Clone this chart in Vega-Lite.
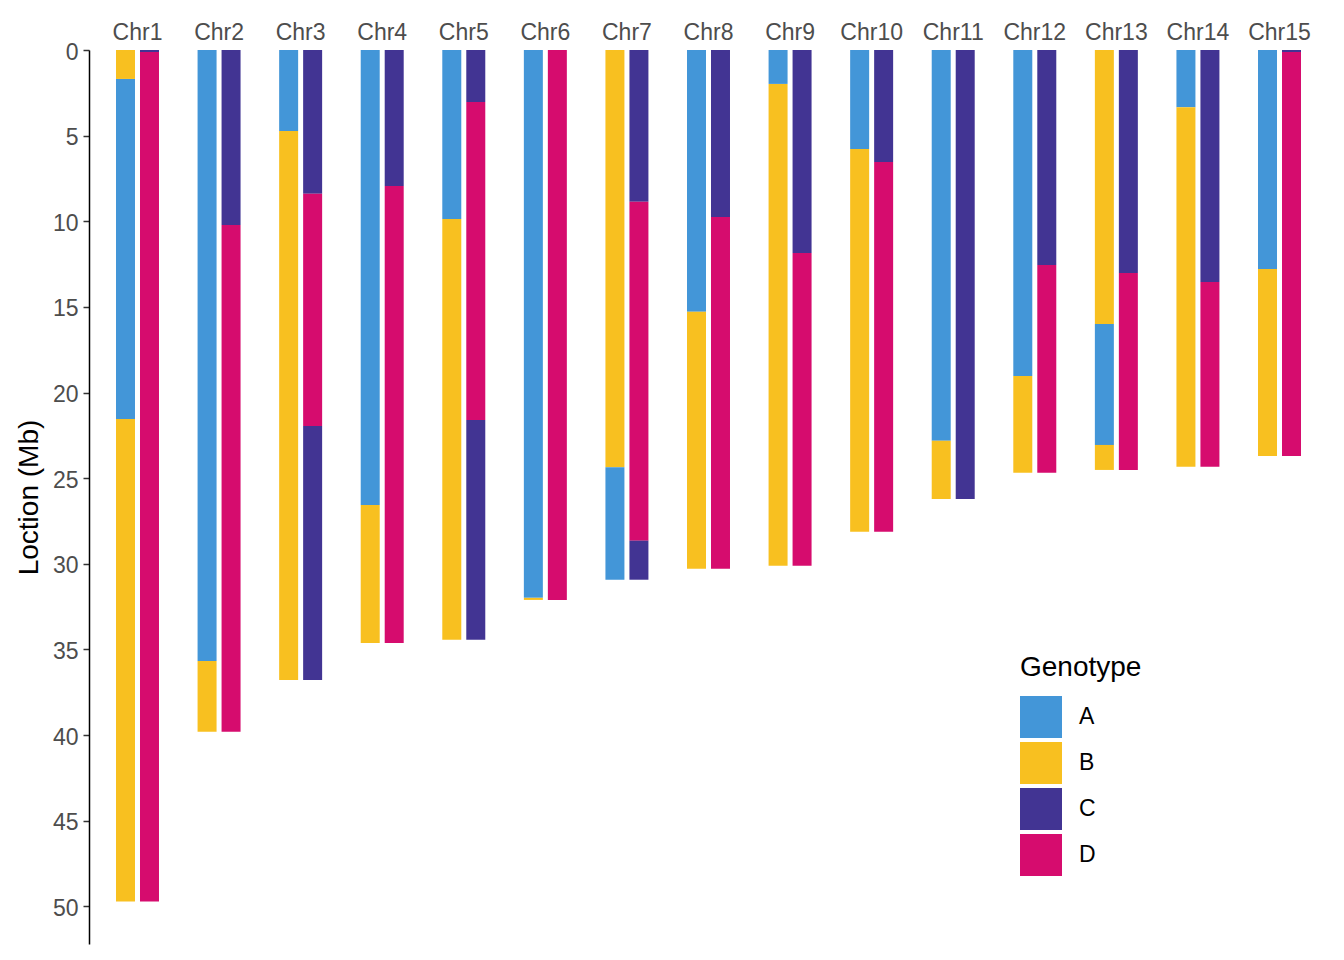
{
 "$schema": "https://vega.github.io/schema/vega-lite/v6.json",
 "width": 1239, "height": 894,
 "autosize": {"type": "none"},
 "padding": {"left": 89, "top": 50, "right": 16, "bottom": 16},
 "config": {"font": "Liberation Sans", "view": {"stroke": null}},
 "data": {"values": [
  {"chr":"Chr1","hap":"1","start":0,"end":1.69,"genotype":"B"},
  {"chr":"Chr1","hap":"1","start":1.69,"end":21.54,"genotype":"A"},
  {"chr":"Chr1","hap":"1","start":21.54,"end":49.72,"genotype":"B"},
  {"chr":"Chr1","hap":"2","start":0,"end":0.12,"genotype":"C"},
  {"chr":"Chr1","hap":"2","start":0.12,"end":49.72,"genotype":"D"},
  {"chr":"Chr2","hap":"1","start":0,"end":35.67,"genotype":"A"},
  {"chr":"Chr2","hap":"1","start":35.67,"end":39.81,"genotype":"B"},
  {"chr":"Chr2","hap":"2","start":0,"end":10.22,"genotype":"C"},
  {"chr":"Chr2","hap":"2","start":10.22,"end":39.81,"genotype":"D"},
  {"chr":"Chr3","hap":"1","start":0,"end":4.73,"genotype":"A"},
  {"chr":"Chr3","hap":"1","start":4.73,"end":36.78,"genotype":"B"},
  {"chr":"Chr3","hap":"2","start":0,"end":8.39,"genotype":"C"},
  {"chr":"Chr3","hap":"2","start":8.39,"end":21.95,"genotype":"D"},
  {"chr":"Chr3","hap":"2","start":21.95,"end":36.78,"genotype":"C"},
  {"chr":"Chr4","hap":"1","start":0,"end":26.56,"genotype":"A"},
  {"chr":"Chr4","hap":"1","start":26.56,"end":34.62,"genotype":"B"},
  {"chr":"Chr4","hap":"2","start":0,"end":7.94,"genotype":"C"},
  {"chr":"Chr4","hap":"2","start":7.94,"end":34.62,"genotype":"D"},
  {"chr":"Chr5","hap":"1","start":0,"end":9.87,"genotype":"A"},
  {"chr":"Chr5","hap":"1","start":9.87,"end":34.44,"genotype":"B"},
  {"chr":"Chr5","hap":"2","start":0,"end":3.04,"genotype":"C"},
  {"chr":"Chr5","hap":"2","start":3.04,"end":21.6,"genotype":"D"},
  {"chr":"Chr5","hap":"2","start":21.6,"end":34.44,"genotype":"C"},
  {"chr":"Chr6","hap":"1","start":0,"end":31.99,"genotype":"A"},
  {"chr":"Chr6","hap":"1","start":31.99,"end":32.11,"genotype":"B"},
  {"chr":"Chr6","hap":"2","start":0,"end":32.11,"genotype":"D"},
  {"chr":"Chr7","hap":"1","start":0,"end":24.37,"genotype":"B"},
  {"chr":"Chr7","hap":"1","start":24.37,"end":30.93,"genotype":"A"},
  {"chr":"Chr7","hap":"2","start":0,"end":8.86,"genotype":"C"},
  {"chr":"Chr7","hap":"2","start":8.86,"end":28.65,"genotype":"D"},
  {"chr":"Chr7","hap":"2","start":28.65,"end":30.93,"genotype":"C"},
  {"chr":"Chr8","hap":"1","start":0,"end":15.29,"genotype":"A"},
  {"chr":"Chr8","hap":"1","start":15.29,"end":30.29,"genotype":"B"},
  {"chr":"Chr8","hap":"2","start":0,"end":9.75,"genotype":"C"},
  {"chr":"Chr8","hap":"2","start":9.75,"end":30.29,"genotype":"D"},
  {"chr":"Chr9","hap":"1","start":0,"end":1.98,"genotype":"A"},
  {"chr":"Chr9","hap":"1","start":1.98,"end":30.12,"genotype":"B"},
  {"chr":"Chr9","hap":"2","start":0,"end":11.85,"genotype":"C"},
  {"chr":"Chr9","hap":"2","start":11.85,"end":30.12,"genotype":"D"},
  {"chr":"Chr10","hap":"1","start":0,"end":5.78,"genotype":"A"},
  {"chr":"Chr10","hap":"1","start":5.78,"end":28.13,"genotype":"B"},
  {"chr":"Chr10","hap":"2","start":0,"end":6.54,"genotype":"C"},
  {"chr":"Chr10","hap":"2","start":6.54,"end":28.13,"genotype":"D"},
  {"chr":"Chr11","hap":"1","start":0,"end":22.82,"genotype":"A"},
  {"chr":"Chr11","hap":"1","start":22.82,"end":26.21,"genotype":"B"},
  {"chr":"Chr11","hap":"2","start":0,"end":26.21,"genotype":"C"},
  {"chr":"Chr12","hap":"1","start":0,"end":19.03,"genotype":"A"},
  {"chr":"Chr12","hap":"1","start":19.03,"end":24.69,"genotype":"B"},
  {"chr":"Chr12","hap":"2","start":0,"end":12.55,"genotype":"C"},
  {"chr":"Chr12","hap":"2","start":12.55,"end":24.69,"genotype":"D"},
  {"chr":"Chr13","hap":"1","start":0,"end":16.0,"genotype":"B"},
  {"chr":"Chr13","hap":"1","start":16.0,"end":23.06,"genotype":"A"},
  {"chr":"Chr13","hap":"1","start":23.06,"end":24.52,"genotype":"B"},
  {"chr":"Chr13","hap":"2","start":0,"end":13.02,"genotype":"C"},
  {"chr":"Chr13","hap":"2","start":13.02,"end":24.52,"genotype":"D"},
  {"chr":"Chr14","hap":"1","start":0,"end":3.34,"genotype":"A"},
  {"chr":"Chr14","hap":"1","start":3.34,"end":24.34,"genotype":"B"},
  {"chr":"Chr14","hap":"2","start":0,"end":13.54,"genotype":"C"},
  {"chr":"Chr14","hap":"2","start":13.54,"end":24.34,"genotype":"D"},
  {"chr":"Chr15","hap":"1","start":0,"end":12.78,"genotype":"A"},
  {"chr":"Chr15","hap":"1","start":12.78,"end":23.7,"genotype":"B"},
  {"chr":"Chr15","hap":"2","start":0,"end":0.12,"genotype":"C"},
  {"chr":"Chr15","hap":"2","start":0.12,"end":23.7,"genotype":"D"}
 ]},
 "mark": {"type": "bar"},
 "encoding": {
  "x": {"field": "chr", "type": "nominal",
   "sort": ["Chr1","Chr2","Chr3","Chr4","Chr5","Chr6","Chr7","Chr8","Chr9","Chr10","Chr11","Chr12","Chr13","Chr14","Chr15"],
   "scale": {"paddingInner": 0.473, "paddingOuter": 0.331},
   "axis": {"orient": "top", "title": null, "domain": false, "ticks": false, "labelAngle": 0, "labelFontSize": 23, "labelColor": "#4d4d4d", "labelPadding": 6}},
  "xOffset": {"field": "hap", "type": "nominal", "scale": {"paddingInner": 0.2083, "paddingOuter": 0}},
  "y": {"field": "start", "type": "quantitative",
   "scale": {"domain": [0, 52.2], "reverse": true, "nice": false, "zero": false},
   "axis": {"title": "Loction (Mb)", "values": [0,5,10,15,20,25,30,35,40,45,50], "grid": false,
    "domainColor": "black", "domainWidth": 1.5, "tickColor": "#333333", "tickWidth": 1.5, "tickSize": 6,
    "labelFontSize": 23, "labelColor": "#4d4d4d", "labelPadding": 5, "labelOffset": 2,
    "titleFontSize": 28, "titleFontWeight": "normal", "titleColor": "black", "titlePadding": 9}},
  "y2": {"field": "end"},
  "color": {"field": "genotype", "type": "nominal", "title": "Genotype",
   "scale": {"domain": ["A","B","C","D"], "range": ["#4396D8","#F8C020","#423493","#D60C6E"]},
   "legend": {"orient": "none", "legendX": 931, "legendY": 604, "symbolType": "square", "symbolSize": 1764,
    "symbolStrokeWidth": 0, "labelFontSize": 23, "labelColor": "black", "labelOffset": 17,
    "titleFontSize": 28, "titleFontWeight": "normal", "titleColor": "black", "rowPadding": 4, "titlePadding": 14}}
 }
}
